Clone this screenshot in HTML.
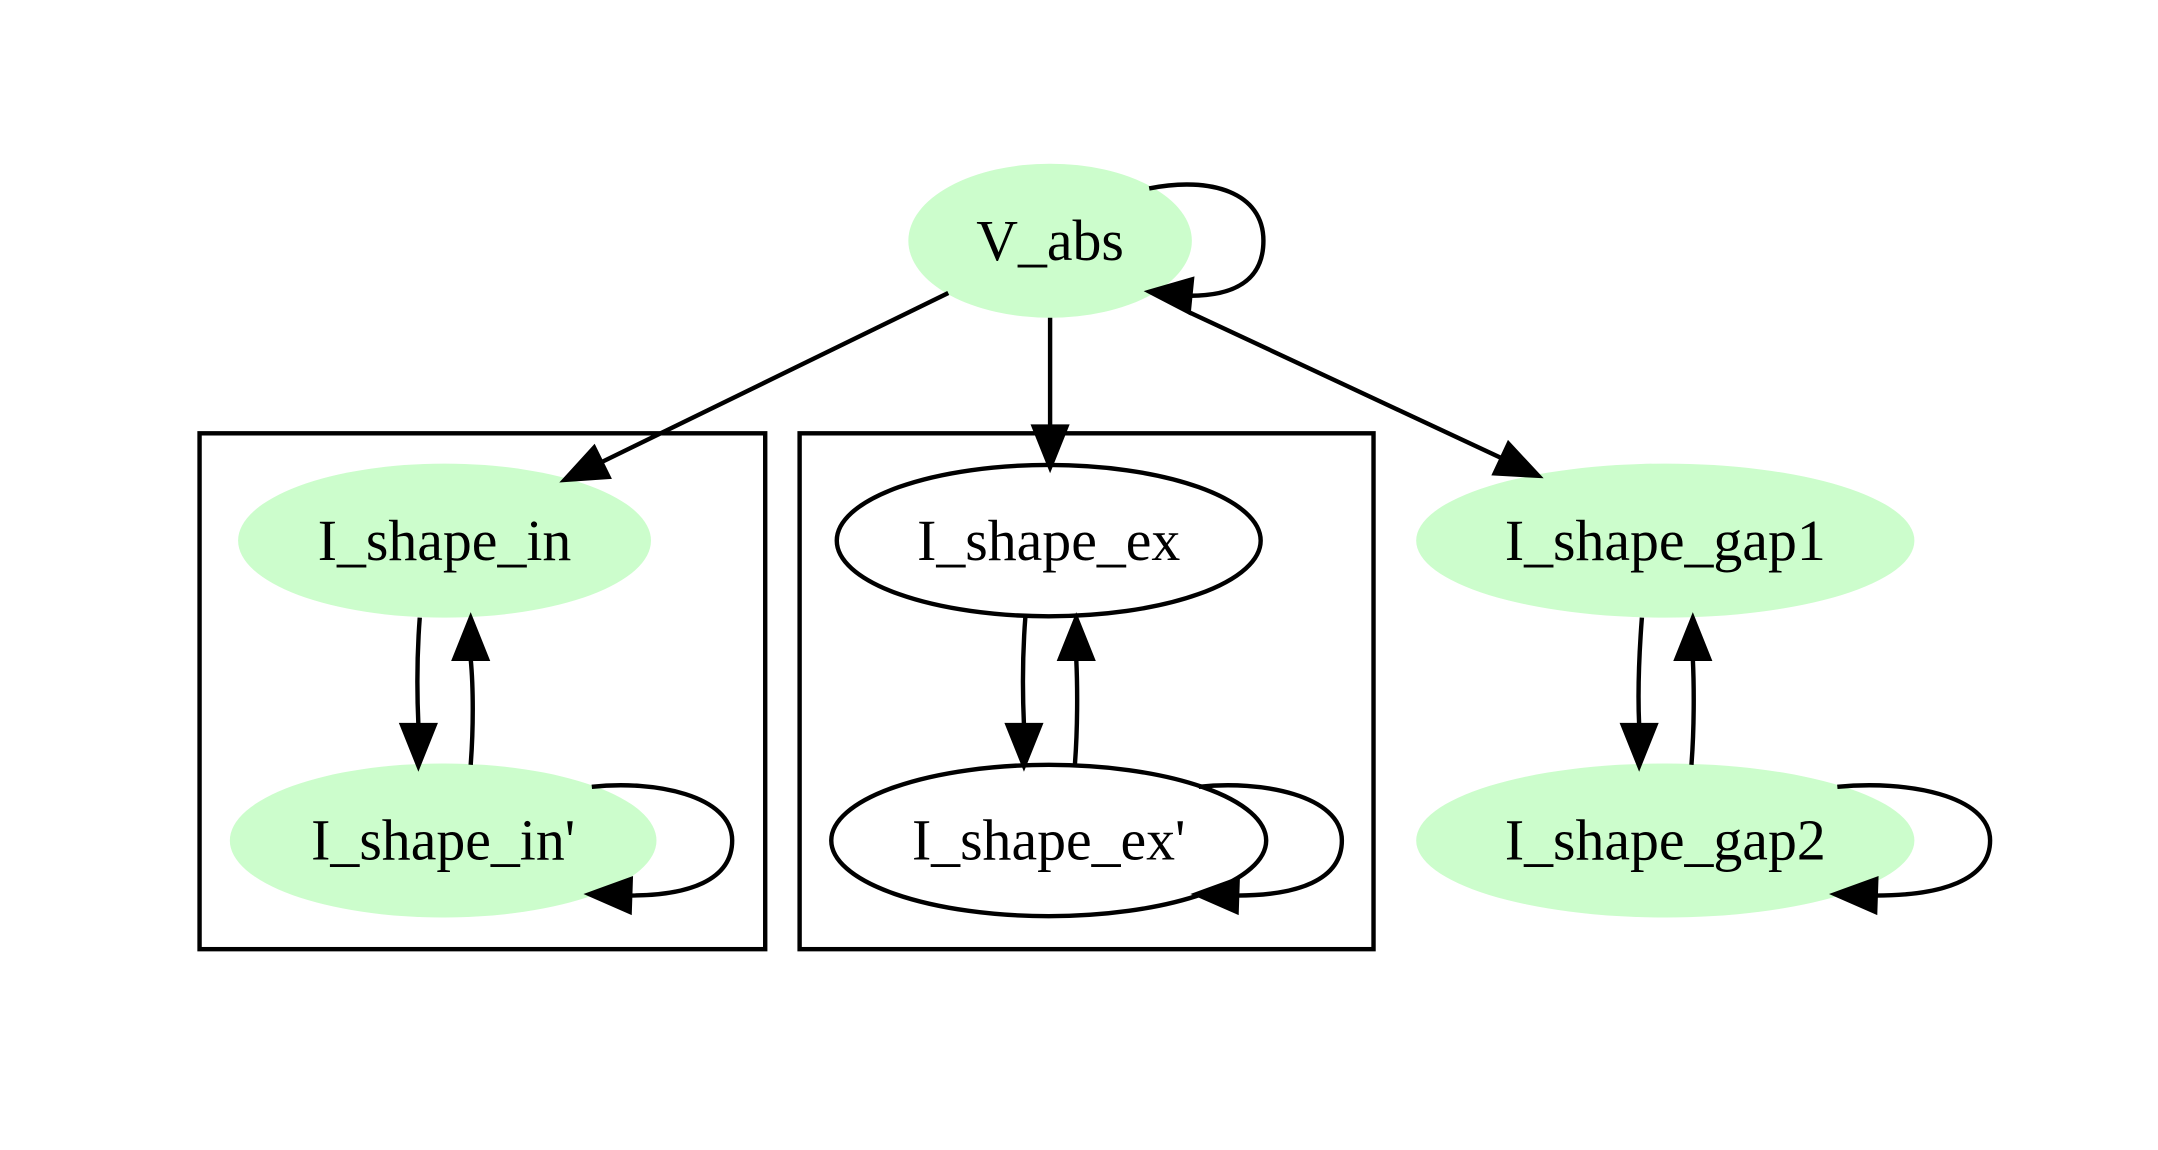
<!DOCTYPE html>
<html><head><meta charset="utf-8"><style>
html,body{margin:0;padding:0;background:#fff;}
svg{display:block;}
text{font-family:"Liberation Serif",serif;font-size:42px;fill:#000;text-anchor:middle;}
</style></head><body>
<svg width="2158" height="1150" viewBox="0 0 1568 836" preserveAspectRatio="none" xmlns="http://www.w3.org/2000/svg">
<rect width="1568" height="836" fill="#fff"/>
<g fill="none" stroke="#000" stroke-width="3.2">
<rect x="145" y="315" width="411" height="375"/>
<rect x="581" y="315" width="417" height="375"/>
</g>
<g fill="#ccfdcc">
<ellipse cx="763" cy="175" rx="103" ry="56"/>
<ellipse cx="323" cy="393" rx="150" ry="56"/>
<ellipse cx="322" cy="611" rx="155" ry="56"/>
<ellipse cx="1210" cy="393" rx="181" ry="56"/>
<ellipse cx="1210" cy="611" rx="181" ry="56"/>
</g>
<g fill="#fff" stroke="#000" stroke-width="3.2">
<ellipse cx="762" cy="393" rx="154" ry="55"/>
<ellipse cx="762" cy="611" rx="158" ry="55"/>
</g>
<g fill="none" stroke="#000" stroke-width="3.2">
<path d="M689,213 L437,336"/>
<path d="M763,231 L763,310"/>
<path d="M864,227 L1091,333"/>
<path d="M835,137 C880,128 918,140 918,175 C918,205 895,215 865,215"/>
<path d="M305,449 C303,475 303,505 304,527"/>
<path d="M342,556 C344,530 344,500 342,479"/>
<path d="M430,572 C475,567 532,578 532,611 C532,640 500,651 458,651"/>
<path d="M745,449 C743,475 743,505 744,527"/>
<path d="M781,556 C783,530 783,500 782,479"/>
<path d="M871,572 C916,567 975,578 975,611 C975,640 942,651 899,651"/>
<path d="M1193,449 C1191,475 1190,505 1191,527"/>
<path d="M1229,556 C1231,530 1231,500 1230,479"/>
<path d="M1335,572 C1385,567 1446,578 1446,611 C1446,640 1410,651 1363,651"/>
</g>
<g fill="#000" stroke="#000" stroke-width="3" stroke-linejoin="miter">
<polygon points="410,349 442.3,346.8 431.7,325.2"/>
<polygon points="763,340 751,310 775,310"/>
<polygon points="1118,346 1085.9,344.2 1096.1,322.4"/>
<polygon points="835,212 866.2,203 863.8,227"/>
<polygon points="304,557 292,527 316,527"/>
<polygon points="744,557 732,527 756,527"/>
<polygon points="1191,557 1179,527 1203,527"/>
<polygon points="342,449 330,479 354,479"/>
<polygon points="782,449 770,479 794,479"/>
<polygon points="1230,449 1218,479 1242,479"/>
<polygon points="428,650 458.4,639 457.6,663"/>
<polygon points="869,650 899.4,639 898.6,663"/>
<polygon points="1333,650 1363.4,639 1362.6,663"/>
</g>
<text x="763" y="189">V_abs</text>
<text x="323" y="407">I_shape_in</text>
<text x="322" y="625">I_shape_in'</text>
<text x="762" y="407">I_shape_ex</text>
<text x="762" y="625">I_shape_ex'</text>
<text x="1210" y="407">I_shape_gap1</text>
<text x="1210" y="625">I_shape_gap2</text>
</svg>
</body></html>
